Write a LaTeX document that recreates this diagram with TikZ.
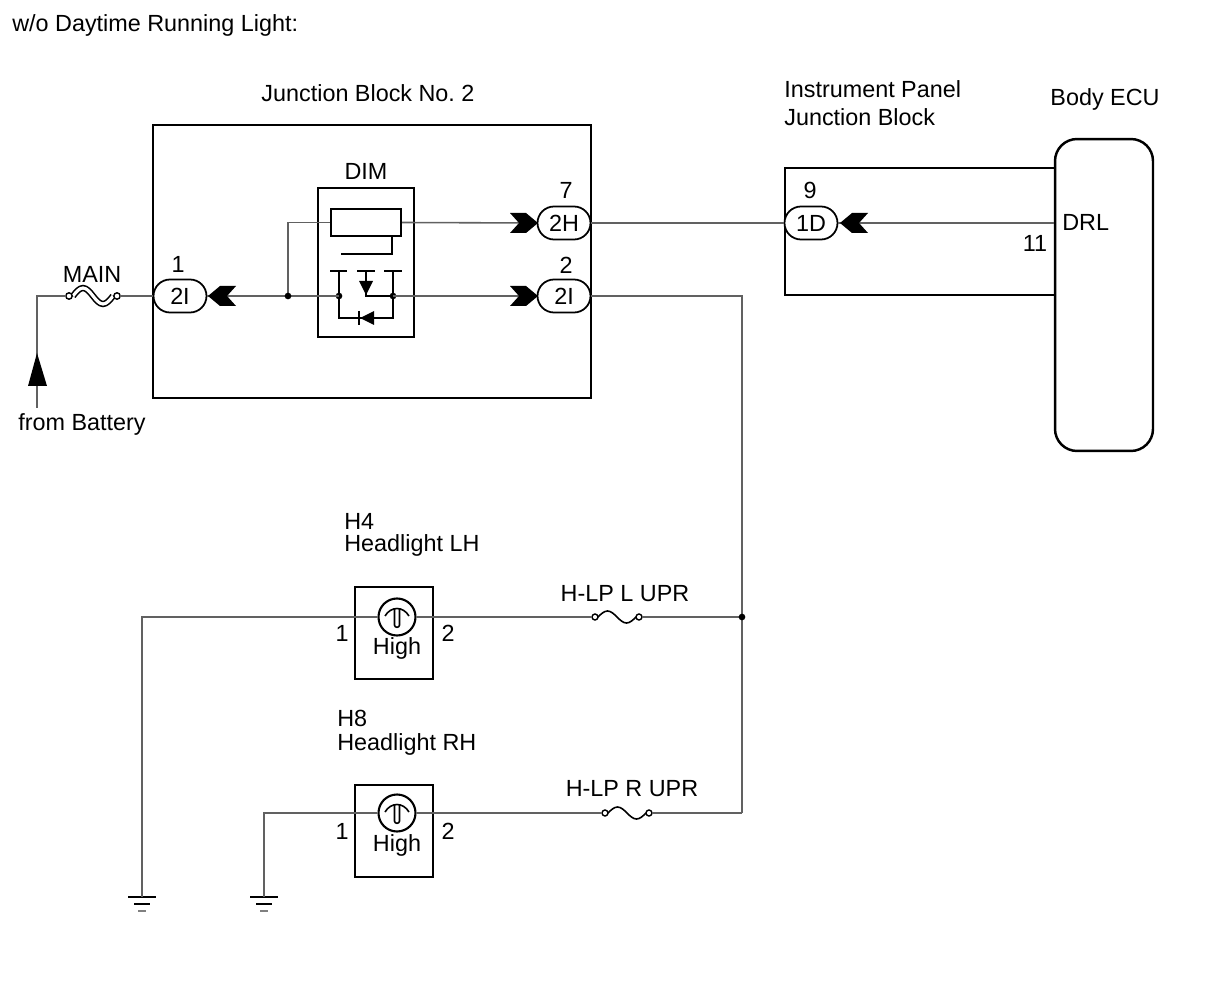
\documentclass[tikz,border=0pt]{standalone}
\usepackage{fontspec}
\setmainfont{Liberation Sans}
\usepackage{tikz}
\usetikzlibrary{positioning, calc}
\frenchspacing

\tikzset{
  wire/.style={draw=black!62, line width=0.9pt},
  blockbox/.style={draw=black, line width=1.4pt, inner sep=0pt},
  inner/.style={draw=black, line width=1pt},
  pill/.style={draw=black, line width=1pt, fill=white, rounded corners=0.33cm, minimum width=1.06cm, minimum height=0.66cm, inner sep=0pt},
  joint/.style={circle, fill=black, inner sep=0pt, minimum size=3.8pt},
  lampbox/.style={draw=black, line width=1.3pt, minimum width=1.56cm, minimum height=1.84cm, inner sep=0pt},
  bulb/.style={circle, draw=black, line width=1.2pt, fill=white, minimum size=0.74cm, inner sep=0pt},
  pics/chevron/.style={code={
    \fill (-28,-10) -- (-12,-10) -- (0,0) -- (-12,10) -- (-28,10) -- (-19,0) -- cycle;
  }},
  pics/filament/.style={code={
    \draw[line width=0.9pt] (-12,-1) .. controls (-6,-11) and (6,-11) .. (12,-1);
    \draw[line width=0.9pt] (-2.5,-9) -- (-2.5,8) .. controls (-2.5,11) and (2.5,11) .. (2.5,8) -- (2.5,-9);
  }},
  pics/hfuse/.style={code={
    \coordinate (-w) at (-25,0);
    \coordinate (-e) at (25,0);
    \draw[line width=0.9pt] (-19,0) sin (-9.5,-6) cos (0,0) sin (9.5,6) cos (19,0);
    \draw[line width=0.8pt, fill=white] (-22,0) circle (3) (22,0) circle (3);
  }},
  pics/linkfuse/.style={code={
    \coordinate (-w) at (-27,0);
    \coordinate (-e) at (27,0);
    \draw[line width=0.9pt, double=white, double distance=1.8pt] (-20,0) sin (-10,-8) cos (0,0) sin (10,8) cos (20,0);
    \draw[line width=0.8pt, fill=white] (-24,0) circle (3.2) (24,0) circle (3.2);
  }},
  pics/gnd/.style={code={
    \coordinate (-t) at (0,0);
    \draw[line width=1.5pt] (-14,0) -- (14,0);
    \draw[line width=1.2pt] (-8,7) -- (8,7);
    \draw[line width=1pt, black!50] (-4,14) -- (4,14);
  }},
}

\begin{document}
\begin{tikzpicture}[x=0.02cm, y=-0.02cm, font=\fontsize{13.3}{16}\selectfont]
  \useasboundingbox (0,0) rectangle (1210,986);

  % Title
  \node[anchor=west, inner sep=0pt] (title) at (12,25) {w/o Daytime Running Light:};

  % Junction Block No. 2
  \node[blockbox, minimum width=8.76cm, minimum height=5.46cm] (jb2) at (372,261.5) {};
  \node (jb2lbl) at (368,93) {Junction Block No. 2};

  % DIM relay
  \node[blockbox, line width=1.2pt, minimum width=1.92cm, minimum height=2.98cm] (dim) at (366,262.5) {};
  \node (dimlbl) at (366,171) {DIM};
  \node[inner, line width=1.2pt, fill=white, minimum width=1.4cm, minimum height=0.54cm, inner sep=0pt] (coil) at (366,222.5) {};
  \draw[inner] (392,236) -- (392,254) -- (341,254);
  \draw[inner] (330,271) -- (347,271) (357,271) -- (375,271) (384,271) -- (402,271);
  \coordinate (ka) at (339,296);
  \coordinate (kb) at (393,296);
  \draw[inner] (339,271) -- (339,318) -- (393,318) -- (393,271);
  \draw[inner] (366,271) -- (366,296) -- (kb);
  \fill (359,281) -- (373,281) -- (366,295) -- cycle;
  \fill (374,311) -- (374,325) -- (360,318) -- cycle;
  \draw[inner, line width=1.4pt] (359,311) -- (359,325);
  \node[joint] (kadot) at (ka) {};
  \node[joint] (kbdot) at (kb) {};

  % Connectors of Junction Block No. 2
  \node[pill] (c2Iin) at (180,296) {2I};
  \node (n1) at (178,264) {1};
  \node[pill] (c2H) at (564,223) {2H};
  \node (n7) at (566,190) {7};
  \node[pill] (c2Iout) at (564,296) {2I};
  \node (n2) at (566,265) {2};

  \coordinate (jsplit) at (288,296);
  \draw[wire] (c2Iin.east) -- (ka);
  \draw[wire] (jsplit) |- (coil.west);
  \draw[wire] (coil.east) -- (c2H.west);
  \draw[wire] (kb) -- (c2Iout.west);
  \node[joint] (jsplitdot) at (jsplit) {};
  \pic[rotate=180] at (208,296) {chevron};
  \pic at (538,223) {chevron};
  \pic at (538,296) {chevron};

  % MAIN fuse and battery feed
  \pic (fmain) at (93,296) {linkfuse};
  \node (mainlbl) at (92,274) {MAIN};
  \coordinate (batt) at (37,408);
  \draw[wire] (c2Iin.west) -- (fmain-e);
  \draw[wire] (fmain-w) -- (37,296) -- (batt);
  \fill (37,353) -- (47,386) -- (28,386) -- cycle;
  \node (battlbl) at (82,424) {from Battery};

  % Instrument Panel Junction Block
  \draw[blockbox] (1055,168) -- (785,168) -- (785,295) -- (1055,295);
  \node[anchor=west, inner sep=0pt] (ipjb1) at (784,89) {Instrument Panel};
  \node[anchor=west, inner sep=0pt] (ipjb2) at (784,117) {Junction Block};
  \node[pill] (c1D) at (811,223) {1D};
  \node (n9) at (810,190) {9};

  % Body ECU
  \node[blockbox, rounded corners=0.44cm, minimum width=1.96cm, minimum height=6.24cm] (ecu) at (1104,295) {};
  \node (ecului) at (1105,99) {Body ECU};
  \node[anchor=west, inner sep=0pt] (drl) at (1062,222) {DRL};
  \node (n11) at (1035,243) {11};

  \draw[wire] (c2H.east) -- (c1D.west);
  \draw[wire] (c1D.east) -- (ecu.west |- c1D.east);
  \pic[rotate=180] at (840,223) {chevron};

  % Headlight feed
  \coordinate (jhl) at (742,617);
  \coordinate (jhr) at (742,813);
  \draw[wire] (c2Iout.east) -- (742,296) -- (jhr);

  % H4 Headlight LH
  \node[anchor=west, inner sep=0pt] (h4) at (344,521) {H4};
  \node[anchor=west, inner sep=0pt] (h4lbl) at (344,545) {Headlight LH};
  \node[lampbox] (boxL) at (394,633) {};
  \pic (fuseL) at (617,617) {hfuse};
  \node (fuseLlbl) at (625,594) {H-LP L UPR};
  \pic (gndL) at (142,897) {gnd};
  \node[bulb] (bulbL) at (397,617) {};
  \draw[wire] (jhl) -- (fuseL-e);
  \draw[wire] (fuseL-w) -- (bulbL.east);
  \draw[wire] (bulbL.west) -- (142,617) -- (gndL-t);
  \pic at (bulbL.center) {filament};
  \node (highL) at (397,648) {High};
  \node (p1L) at (342,633) {1};
  \node (p2L) at (448,633) {2};
  \node[joint] (jhldot) at (jhl) {};

  % H8 Headlight RH
  \node[anchor=west, inner sep=0pt] (h8) at (337,718) {H8};
  \node[anchor=west, inner sep=0pt] (h8lbl) at (337,744) {Headlight RH};
  \node[lampbox] (boxR) at (394,831) {};
  \pic (fuseR) at (627,813) {hfuse};
  \node (fuseRlbl) at (632,789) {H-LP R UPR};
  \pic (gndR) at (264,897) {gnd};
  \node[bulb] (bulbR) at (397,813) {};
  \draw[wire] (jhr) -- (fuseR-e);
  \draw[wire] (fuseR-w) -- (bulbR.east);
  \draw[wire] (bulbR.west) -- (264,813) -- (gndR-t);
  \pic at (bulbR.center) {filament};
  \node (highR) at (397,845) {High};
  \node (p1R) at (342,831) {1};
  \node (p2R) at (448,831) {2};
\end{tikzpicture}
\end{document}
